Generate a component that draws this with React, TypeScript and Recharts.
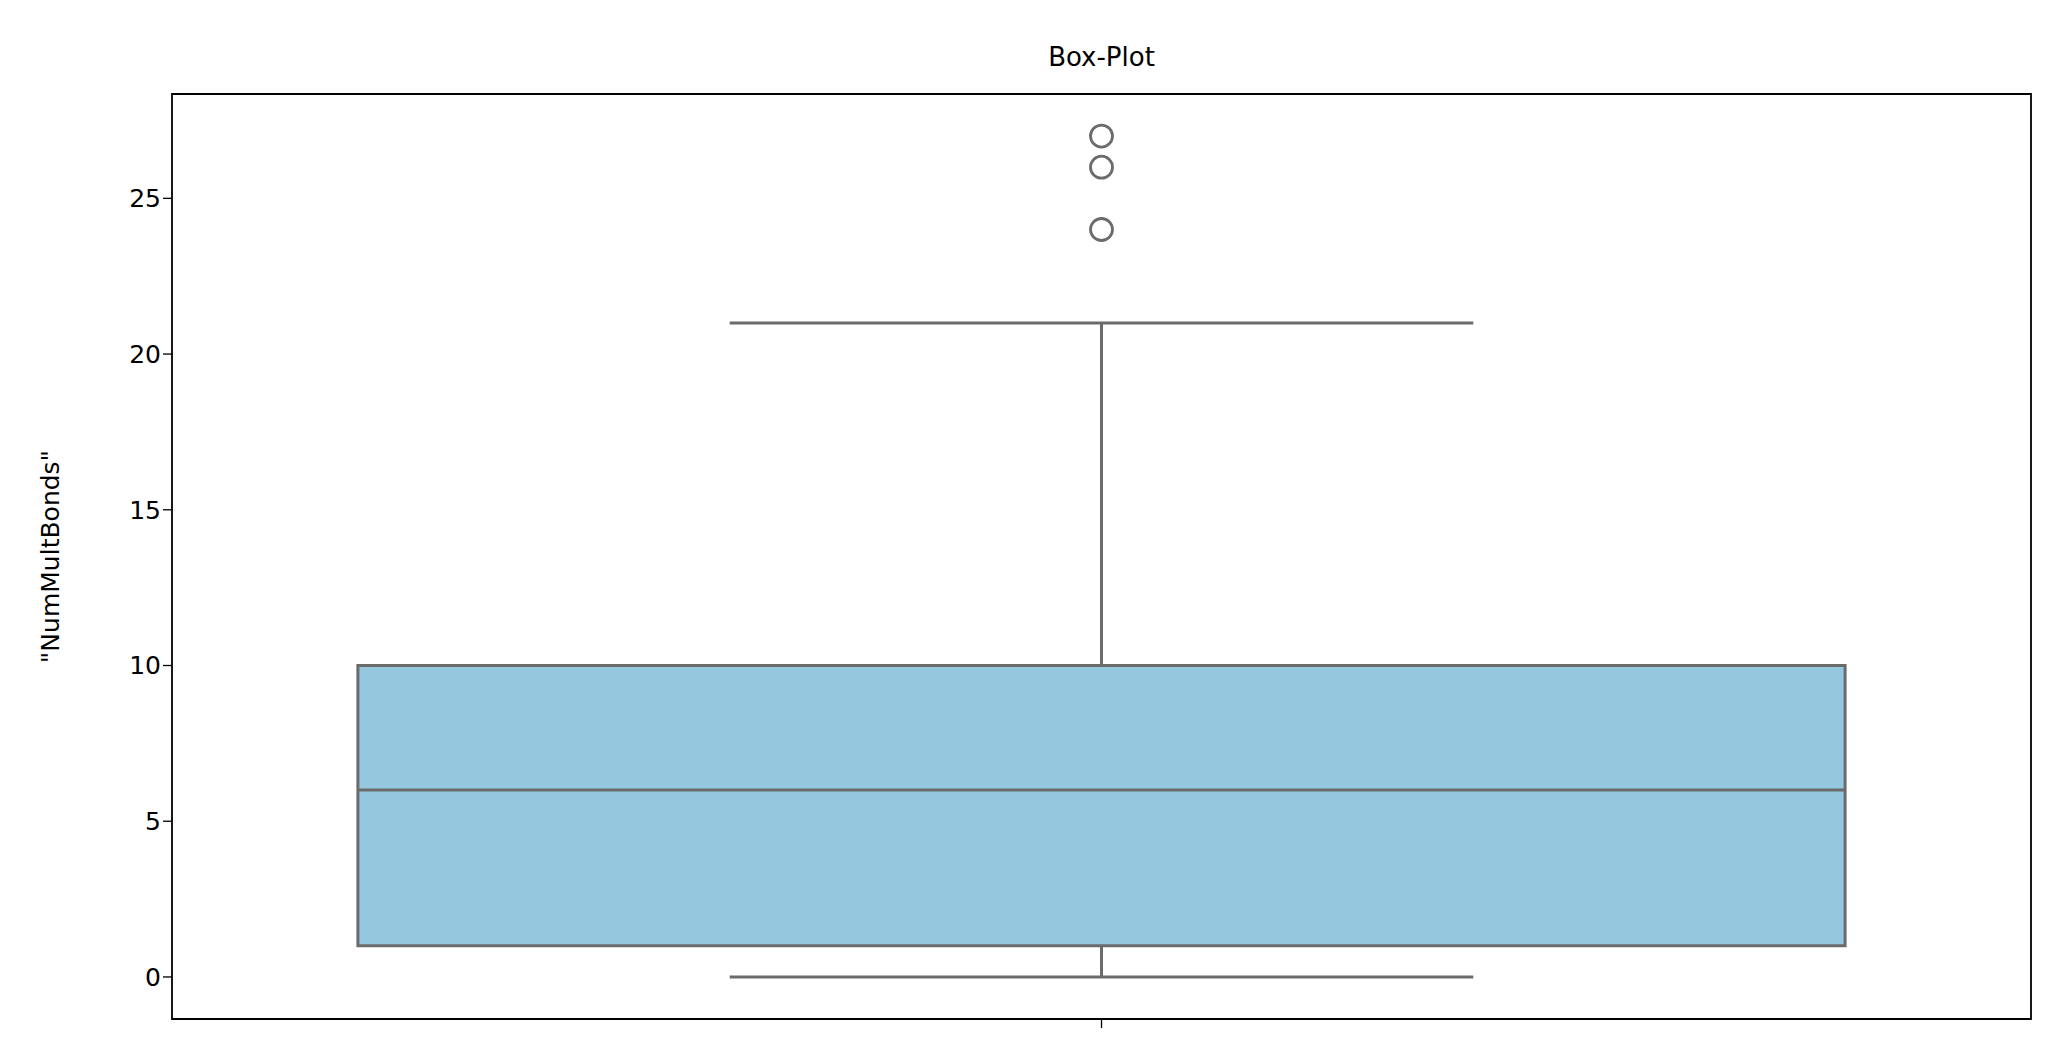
import React from 'react'
import {
  ComposedChart, XAxis, YAxis, Scatter, ReferenceArea, ReferenceLine,
} from 'recharts'

const yTicks = [0, 5, 10, 15, 20, 25]
const boxStats = { q1: 1, median: 6, q3: 10, low: 0, high: 21 }
const outliers = [24, 26, 27]

const LINE = '#6b6b6b'
const FILL = '#95c8de'
const FONT = 'DejaVu Sans, sans-serif'

const outlierData = outliers.map((v) => ({ x: 0, y: v }))

export default function App() {
  return (
    <div style={{ position: 'relative', width: 2044, height: 1045, fontFamily: FONT }}>
      <div style={{ position: 'absolute', top: 34, left: 164, width: 1859, textAlign: 'center', fontSize: 26, color: '#000' }}>
        Box-Plot
      </div>
      <ComposedChart width={2044} height={1045} margin={{ top: 86, right: 21, bottom: 4, left: 0 }}>
        <XAxis
          type="number"
          dataKey="x"
          domain={[-0.5, 0.5]}
          ticks={[0]}
          tickFormatter={() => ''}
          tickSize={9}
          tickLine={{ stroke: '#000', strokeWidth: 1.3 }}
          axisLine={false}
          height={30}
        />
        <YAxis
          type="number"
          dataKey="y"
          domain={[-1.35, 28.35]}
          ticks={yTicks}
          allowDataOverflow
          width={164}
          tickSize={9}
          tickLine={{ stroke: '#000', strokeWidth: 1.3 }}
          axisLine={false}
          tick={{ fill: '#000', fontSize: 25, fontFamily: FONT }}
          label={{ value: '"NumMultBonds"', angle: -90, position: 'insideLeft', offset: 42, style: { fill: '#000', fontSize: 25, fontFamily: FONT, textAnchor: 'middle' } }}
        />
        <ReferenceLine segment={[{ x: 0, y: boxStats.low }, { x: 0, y: boxStats.q1 }]} stroke={LINE} strokeWidth={3} />
        <ReferenceLine segment={[{ x: 0, y: boxStats.q3 }, { x: 0, y: boxStats.high }]} stroke={LINE} strokeWidth={3} />
        <ReferenceLine segment={[{ x: -0.2, y: boxStats.low }, { x: 0.2, y: boxStats.low }]} stroke={LINE} strokeWidth={3} />
        <ReferenceLine segment={[{ x: -0.2, y: boxStats.high }, { x: 0.2, y: boxStats.high }]} stroke={LINE} strokeWidth={3} />
        <ReferenceArea x1={-0.4} x2={0.4} y1={boxStats.q1} y2={boxStats.q3} fill={FILL} fillOpacity={1} stroke={LINE} strokeWidth={3} />
        <ReferenceLine segment={[{ x: -0.4, y: boxStats.median }, { x: 0.4, y: boxStats.median }]} stroke={LINE} strokeWidth={3} />
        <Scatter
          data={outlierData}
          isAnimationActive={false}
          shape={(p: any) => <circle cx={p.cx} cy={p.cy} r={11} fill="none" stroke={LINE} strokeWidth={2.8} />}
        />
        <ReferenceArea x1={-0.5} x2={0.5} y1={-1.35} y2={28.35} fill="none" stroke="#000" strokeWidth={1.8} ifOverflow="extendDomain" />
      </ComposedChart>
    </div>
  )
}
